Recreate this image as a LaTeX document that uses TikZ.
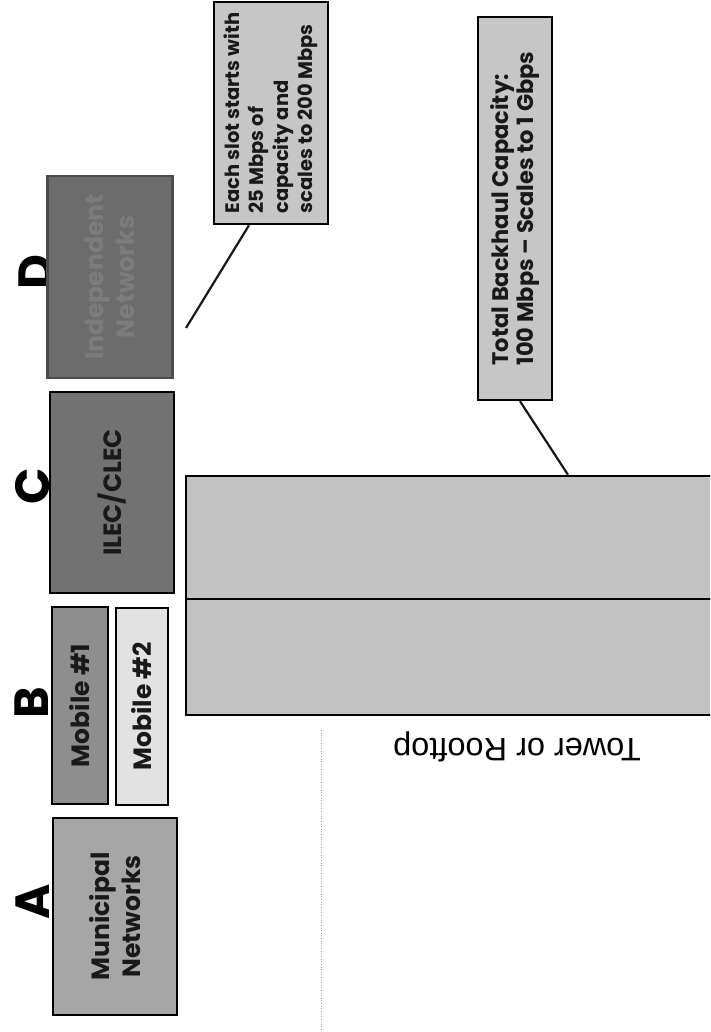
\documentclass[tikz,border=0pt]{standalone}
\usepackage{fontspec}
\setmainfont{Poppins}
\newfontfamily\arialf{Liberation Sans}
\definecolor{gA}{HTML}{A6A6A6}
\definecolor{gMobA}{HTML}{8E8E8E}
\definecolor{gMobB}{HTML}{E2E2E2}
\definecolor{gC}{HTML}{727272}
\definecolor{gD}{HTML}{6C6C6C}
\definecolor{gDtext}{HTML}{7C7C7C}
\definecolor{gCall}{HTML}{C6C6C6}
\definecolor{gSlot}{HTML}{C2C2C2}
\begin{document}
\begin{tikzpicture}[x=1pt,y=-1pt,
  box/.style={draw=black, line width=2.5pt, rotate=90, inner sep=0pt, align=center,
    font=\fontsize{25}{31}\selectfont\bfseries, text=black!90},
  letter/.style={rotate=90, font=\fontsize{48}{48}\selectfont\bfseries, inner sep=0pt},
  callout/.style={box, fill=gCall, align=left, font=\fontsize{19.5}{24.5}\selectfont\bfseries},
  slot/.style={draw=black, line width=2.5pt, fill=gSlot, inner sep=0pt},
  lead/.style={line width=2.2pt, draw=black!90}]
\clip (0,0) rectangle (710,1032);
\fill[white] (0,0) rectangle (710,1032);
% guide dotted line
\coordinate (g1) at (321,730);
\coordinate (g2) at (321,1032);
\draw[dotted, black!35, line width=0.6pt] (g1) -- (g2);
% letters
\node[letter] (la) at (33,902) {A};
\node[letter] (lb) at (32,703) {B};
\node[letter] (lc) at (33,486) {C};
\node[letter] (ld) at (36,272) {D};
% source boxes
\node[box, fill=gA, minimum width=197pt, minimum height=124pt] (ba) at (115,916.5) {Municipal\\Networks};
\node[box, fill=gMobA, minimum width=197pt, minimum height=56pt] (bb1) at (80,705.5) {Mobile \#1};
\node[box, fill=gMobB, minimum width=197pt, minimum height=52pt] (bb2) at (142,706.5) {Mobile \#2};
\node[box, fill=gC, minimum width=201pt, minimum height=124pt] (bc) at (112,492.5) {ILEC/CLEC};
\node[box, fill=gD, draw=gD!70!black, text=gDtext, minimum width=202pt, minimum height=125pt] (bd) at (110,277) {Independent\\Networks};
% backhaul slots
\node[slot, minimum width=529pt, minimum height=123pt] (s1) at (450.5,537.5) {};
\node[slot, minimum width=529pt, minimum height=116pt] (s2) at (450.5,657) {};
% callouts
\node[callout, minimum width=222pt, minimum height=114pt] (c1) at (271,113)
  {Each slot starts with\\25 Mbps of\\capacity and\\scales to 200 Mbps};
\node[callout, minimum width=383pt, minimum height=74pt, font=\fontsize{22.5}{25.5}\selectfont\bfseries] (c2) at (515,208.5)
  {Total Backhaul Capacity:\\100 Mbps -- Scales to 1 Gbps};
% leaders
\coordinate (d1) at (186,328);
\draw[lead] (d1) -- ([xshift=-22pt]c1.west);
\draw[lead] ([xshift=5pt]c2.west) -- ([xshift=117.5pt]s1.north);
% site label
\node[rotate=180, font=\arialf\fontsize{32.5}{33}\selectfont, inner sep=0pt] (site) at (517,747) {Tower or Rooftop};
\end{tikzpicture}
\end{document}
